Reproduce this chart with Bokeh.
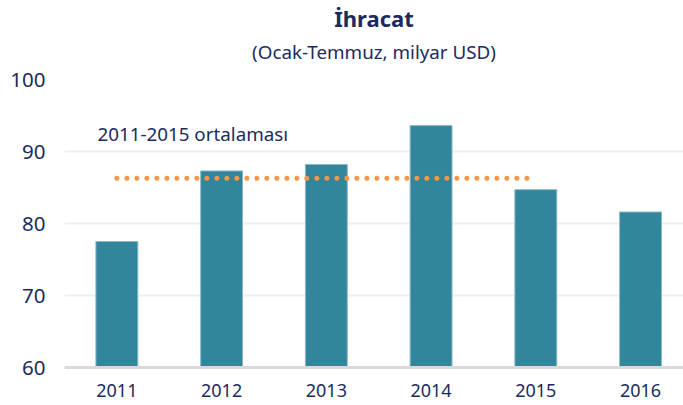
from bokeh.plotting import figure
from bokeh.models import Range1d, FixedTicker, Label, Title
from bokeh.embed import file_html
from bokeh.resources import INLINE

years = [2011, 2012, 2013, 2014, 2015, 2016]
year_labels = ["2011", "2012", "2013", "2014", "2015", "2016"]
exports = [77.5, 87.3, 88.2, 93.6, 84.7, 81.6]
avg_years = [2011, 2015]
avg_value = [86.3, 86.3]
y_ticks = [60, 70, 80, 90, 100]

FONT = "Noto Sans"
NAVY = "#1B2B5E"

p = figure(width=683, height=405, output_backend="svg", toolbar_location=None,
           x_range=Range1d(2010.5, 2016.41), y_range=Range1d(60, 100),
           min_border_left=64, min_border_right=0, min_border_bottom=38, min_border_top=79)
p.outline_line_color = None
p.background_fill_color = "white"

p.vbar(x=years, top=exports, bottom=60, width=0.4, fill_color="#31869B",
       line_color="#8ab9c6", line_width=1)
p.line(x=avg_years, y=avg_value, line_color="#F79646", line_width=5,
       line_dash="0 10", line_cap="round")

p.add_layout(Label(x=2010.815, y=92.4, text="2011-2015 ortalaması", text_font=FONT,
                   text_font_size="18.8px", text_color=NAVY, text_baseline="middle"))

# spacer between subtitle and plot area
p.add_layout(Title(text=" ", text_font_size="1px", standoff=8), "above")
p.add_layout(Title(text="(Ocak-Temmuz, milyar USD)", align="center", offset=-7,
                   text_font=FONT, text_font_size="18.8px", text_font_style="normal",
                   text_color=NAVY, standoff=8), "above")
p.add_layout(Title(text="İhracat", align="center", offset=-6,
                   text_font=FONT, text_font_size="22px", text_font_style="bold",
                   text_color=NAVY, standoff=0), "above")

p.xaxis.ticker = FixedTicker(ticks=years)
p.xaxis.major_label_overrides = {y: l for y, l in zip(years, year_labels)}
p.xaxis.axis_line_color = "#D9D9D9"
p.xaxis.axis_line_width = 3
p.xaxis.major_tick_line_color = None
p.xaxis.minor_tick_line_color = None
p.xaxis.major_label_standoff = 10
p.xaxis.major_label_text_font = FONT
p.xaxis.major_label_text_font_size = "18px"
p.xaxis.major_label_text_color = NAVY

p.yaxis.ticker = FixedTicker(ticks=y_ticks)
p.yaxis.axis_line_color = None
p.yaxis.major_tick_line_color = None
p.yaxis.minor_tick_line_color = None
p.yaxis.major_label_standoff = 13
p.yaxis.major_label_text_font = FONT
p.yaxis.major_label_text_font_size = "20.5px"
p.yaxis.major_label_text_color = NAVY

p.xgrid.grid_line_color = None
p.ygrid.grid_line_color = "#EFEFEF"
p.ygrid.grid_line_width = 2

open("out.html", "w").write(file_html(p, INLINE))
